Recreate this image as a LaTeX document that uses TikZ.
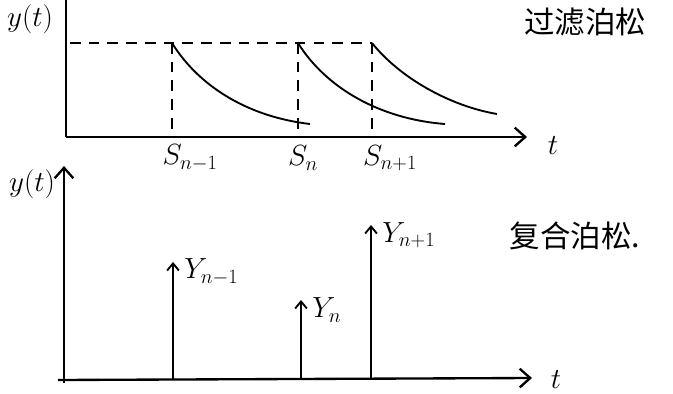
\documentclass[tikz,border=0pt]{standalone}
\usepackage{fontspec}
\newfontfamily\cjk{Noto Sans CJK SC}
\usetikzlibrary{arrows.meta,positioning,calc}
\tikzset{every picture/.style={line width=0.75pt}}
\tikzset{
  axis/.style={line width=2pt},
  axisarrow/.style={line width=2pt,-{Straight Barb[length=9pt,width=16pt,line width=2pt]}},
  guide/.style={line width=1.5pt,dashed,dash pattern=on 9pt off 7pt},
  decay/.style={line width=1.6pt},
  jump/.style={line width=1.6pt,-{Straight Barb[length=6pt,width=10pt,line width=1.6pt]}},
  lbl/.style={font=\fontsize{23}{26}\selectfont},
  cjklbl/.style={font=\cjk\fontsize{26}{30}\selectfont}
}

\begin{document}
\begin{tikzpicture}[x=0.03cm,y=-0.03cm]
    \useasboundingbox (0,0) rectangle (673,394);
    % 上图：过滤泊松
    \coordinate (o1) at (66,137);
    \coordinate (ytop) at (66,-2);
    \coordinate (xend1) at (527,137);
    \draw[axis] (o1) -- (ytop);
    \draw[axisarrow] (o1) -- (xend1);
    \node[lbl] (t1) at (553,146) {$t$};
    \node[lbl] (y1) at (30,19) {$y(t)$};
    \coordinate (h0) at (70,43);
    \foreach \s/\x in {a/172,b/298,c/372}{
        \coordinate (top\s) at (\x,43);
        \coordinate (bot\s) at (\x,137);
        \draw[guide] (top\s) -- (bot\s);
    }
    \draw[guide] (h0) -- (topc);
    % 指数衰减
    \coordinate (enda) at (310,124);
    \coordinate (endb) at (445,124);
    \coordinate (endc) at (497,114);
    \draw[decay] (topa) .. controls (200,88) and (250,117) .. (enda);
    \draw[decay] (topb) .. controls (326,88) and (380,119) .. (endb);
    \draw[decay] (topc) .. controls (400,78) and (450,106) .. (endc);
    \node[lbl] (sa) at (190,158) {$S_{n-1}$};
    \node[lbl] (sb) at (303,158) {$S_n$};
    \node[lbl] (sc) at (390,158) {$S_{n+1}$};
    \node[cjklbl] (name1) at (585,22) {过滤泊松};
    % 下图：复合泊松
    \coordinate (o2) at (64,383);
    \coordinate (y2end) at (64,166);
    \coordinate (x2start) at (58,380);
    \coordinate (xend2) at (532,378);
    \draw[axisarrow] (o2) -- (y2end);
    \draw[axisarrow] (x2start) -- (xend2);
    \node[lbl] (t2) at (556,380) {$t$};
    \node[lbl] (y2) at (32,184) {$y(t)$};
    \foreach \s/\x/\h/\txt in {a/173/262/{Y_{n-1}},b/301/300/{Y_n},c/371/225/{Y_{n+1}}}{
        \coordinate (base\s) at (\x,380);
        \coordinate (peak\s) at (\x,\h);
        \draw[jump] (base\s) -- (peak\s);
        \node[lbl,anchor=west] (Y\s) at (\x+7,\h+10) {$\txt$};
    }
    \node[cjklbl] (name2) at (575,236) {复合泊松.};
\end{tikzpicture}
\end{document}
